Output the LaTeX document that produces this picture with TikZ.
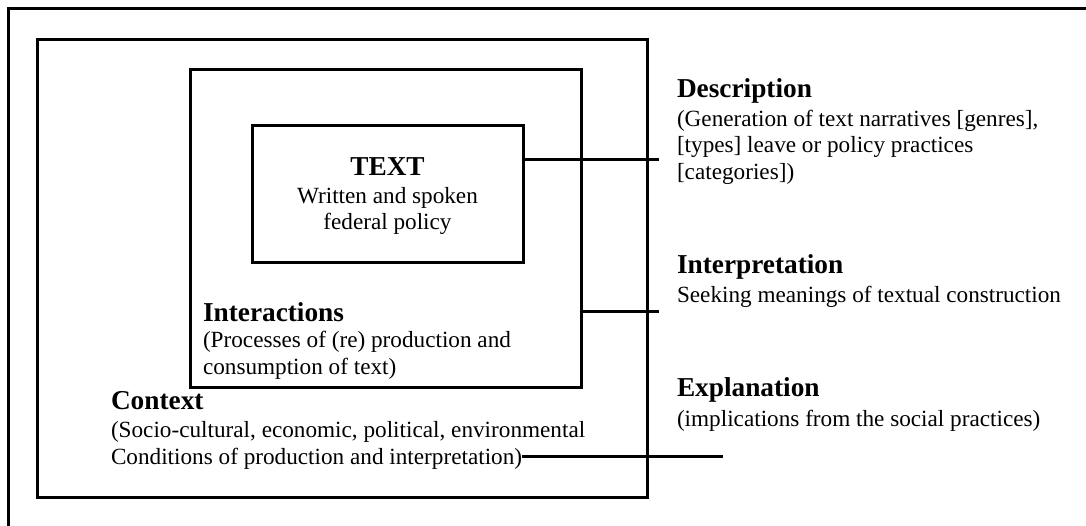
\documentclass[tikz,border=0pt]{standalone}
\usepackage{fontspec}
\setmainfont{Liberation Serif}
\begin{document}
\begin{tikzpicture}[x=1pt,y=-1pt,
  boxframe/.style={draw, line width=3pt, inner sep=0pt, outer sep=0pt},
  conn/.style={draw, line width=3pt},
  blocktext/.style={inner sep=0pt, outer sep=0pt, font=\fontsize{23.2}{26.5}\selectfont},
]
\newcommand\headtxt[1]{{\fontsize{27.3}{30}\selectfont\bfseries #1}}
\useasboundingbox (0,0) rectangle (1086,525);
\clip (0,0) rectangle (1086,525);

% nested frames
\node[boxframe, minimum width=1110pt, minimum height=550pt] (outer) at (563,283) {};
\node[boxframe, minimum width=610pt, minimum height=458pt] (ctxbox) at (342,268) {};
\node[boxframe, minimum width=391pt, minimum height=318pt] (interbox) at (385.5,228) {};
\node[boxframe, minimum width=271pt, minimum height=137pt] (textbox) at (387.5,193.5) {};

% texts inside the frames
\node[blocktext, anchor=base] (textlbl) at (387.5,175)
  {\begin{tabular}[t]{@{}c@{}}\headtxt{TEXT}\\[1.5pt] Written and spoken\\ federal policy\end{tabular}};
\node[blocktext, anchor=base west] (interlbl) at (203,321)
  {\begin{tabular}[t]{@{}l@{}}\headtxt{Interactions}\\ (Processes of (re) production and\\ consumption of text)\end{tabular}};
\node[blocktext, anchor=base west] (ctxhead) at (111,409)
  {\begin{tabular}[t]{@{}l@{}}\headtxt{Context}\\[1.5pt] (Socio-cultural, economic, political, environmental\end{tabular}};
\node[blocktext, anchor=base west] (ctxlast) at (111,464)
  {Conditions of production and interpretation)};

% analysis levels on the right
\node[blocktext, anchor=base west] (desc) at (677,97)
  {\begin{tabular}[t]{@{}l@{}}\headtxt{Description}\\[2.5pt] (Generation of text narratives [genres],\\ \relax[types] leave or policy practices\\ \relax[categories])\end{tabular}};
\node[blocktext, anchor=base west] (interp) at (677,273)
  {\begin{tabular}[t]{@{}l@{}}\headtxt{Interpretation}\\[2.5pt] Seeking meanings of textual construction\end{tabular}};
\node[blocktext, anchor=base west] (expl) at (677,396)
  {\begin{tabular}[t]{@{}l@{}}\headtxt{Explanation}\\[4pt] (implications from the social practices)\end{tabular}};

% connectors
\coordinate (descend) at (659,159);
\coordinate (interpend) at (659,311);
\coordinate (explend) at (723,456);
\draw[conn] (textbox.east |- descend) -- (descend);
\draw[conn] (interbox.east |- interpend) -- (interpend);
\draw[conn] (ctxlast.east |- explend) -- (explend);
\end{tikzpicture}
\end{document}
